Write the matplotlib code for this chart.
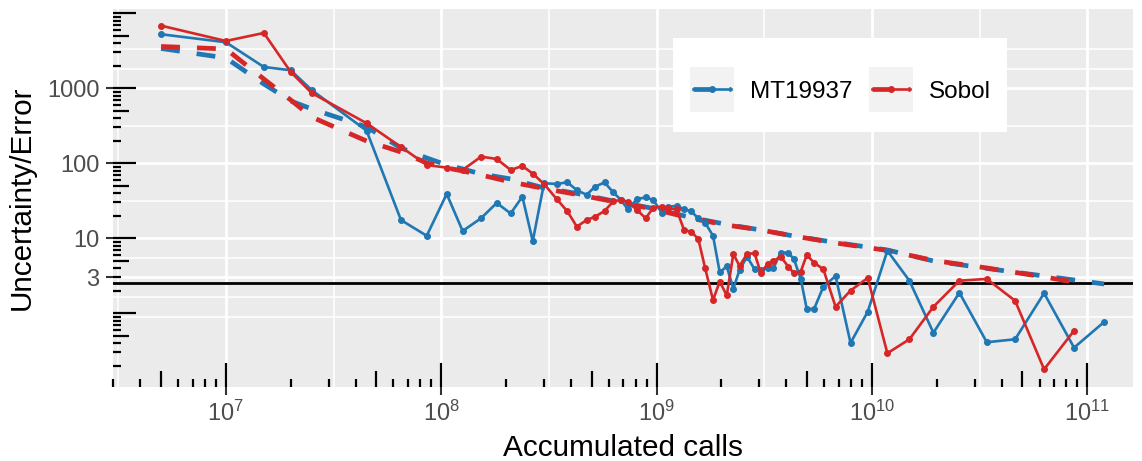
import numpy as np
import matplotlib
matplotlib.use("Agg")
import matplotlib.pyplot as plt
from matplotlib.lines import Line2D
from matplotlib.patches import Rectangle
from matplotlib.legend_handler import HandlerBase
from matplotlib.transforms import blended_transform_factory
from matplotlib.ticker import FixedLocator, FuncFormatter, NullFormatter

plt.rcParams['font.family'] = ['Liberation Sans', 'DejaVu Sans']
plt.rcParams['mathtext.fontset'] = 'custom'
plt.rcParams['mathtext.rm'] = 'Liberation Sans'
plt.rcParams['mathtext.it'] = 'Liberation Sans:italic'
plt.rcParams['mathtext.bf'] = 'Liberation Sans:bold'

# ---------------- data ----------------
calls = [5.0e6, 1.0e7, 1.5e7, 2.0e7, 2.5e7, 4.5e7, 6.5e7, 8.56e7, 1.06e8, 1.257e8,
         1.53e8, 1.81e8, 2.10e8, 2.38e8, 2.66e8, 3.00e8, 3.44e8, 3.85e8, 4.26e8, 4.73e8,
         5.18e8, 5.73e8, 6.30e8, 6.81e8, 7.35e8, 8.11e8, 8.90e8, 9.65e8, 1.056e9, 1.13e9,
         1.237e9, 1.341e9, 1.448e9, 1.562e9, 1.678e9, 1.828e9, 1.964e9, 2.117e9, 2.272e9, 2.427e9,
         2.63e9, 2.849e9, 3.044e9, 3.281e9, 3.483e9, 3.771e9, 4.089e9, 4.346e9, 4.67e9, 4.98e9,
         5.384e9, 5.948e9, 6.776e9, 7.954e9, 9.56e9, 1.179e10, 1.492e10, 1.929e10, 2.547e10, 3.414e10,
         4.62e10, 6.30e10, 8.68e10, 1.197e11]

mt_error = [5250, 4105, 1923, 1738, 949, 272, 17.5, 10.8, 39.0, 12.5,
            18.5, 29.6, 21.4, 35.9, 9.15, 54.1, 53.0, 55.8, 43.8, 38.0,
            48.8, 55.5, 40.8, 32.7, 24.4, 33.4, 35.0, 32.4, 21.9, 26.4,
            27.0, 24.4, 22.9, 18.4, 16.2, 10.8, 3.52, 4.21, 2.13, 3.78,
            5.68, 3.87, 3.78, 3.98, 3.98, 6.43, 6.43, 5.25, 2.87, 1.14,
            1.14, 2.26, 3.14, 0.402, 1.05, 6.83, 2.72, 0.551, 1.88, 0.411,
            0.450, 1.85, 0.348, 0.766]

sobol_error = [6835, 4272, 5462, 1649, 866, 342, 165, 94.9, 87.4, 81.4,
               122.5, 114.1, 81.4, 92.0, 72.7, 53.0, 33.2, 22.9, 14.3, 17.5,
               19.4, 23.1, 31.1, 32.4, 30.8, 23.8, 18.5, 25.6, 26.4, 25.1,
               24.4, 12.9, 12.2, 9.79, 4.06, 1.50, 2.65, 1.73, 6.18, 4.27,
               6.18, 6.31, 3.48, 4.54, 4.98, 5.68, 4.18, 3.42, 3.59, 5.99,
               4.73, 3.86, 1.22, 2.01, 2.96, 0.293, 0.450, 1.22, 2.72, 2.87,
               1.47, 0.179, 0.586]

uncert_calls = [5.0e6, 1.0e7, 1.5e7, 2.0e7, 2.5e7, 4.5e7, 6.5e7, 8.56e7, 1.06e8, 1.257e8,
                1.53e8, 2.10e8, 3.00e8, 4.26e8, 6.30e8, 9.65e8, 1.448e9, 2.117e9, 3.044e9, 4.346e9,
                6.776e9, 1.179e10, 1.929e10, 3.414e10, 6.30e10, 8.68e10, 1.197e11]

mt_uncert = [3394, 2535, 1141, 677, 530, 305, 160, 117.7, 94.9, 84.0,
             72.0, 61.8, 46.9, 39.6, 31.4, 25.0, 18.9, 15.3, 12.9, 10.7,
             8.79, 6.98, 4.98, 3.96, 3.14, 2.78, 2.46]

sobol_uncert = [3608, 3342, 1330, 698, 414, 198, 141.5, 101, 86.6, 78.9,
                69.8, 56.3, 46.1, 38.4, 30.9, 24.6, 18.4, 15.0, 12.9, 10.7,
                8.66, 6.88, 5.06, 4.02, 3.05, 2.61]

threshold = 2.5
series_names = ["MT19937", "Sobol"]
series_colors = ["#1F77B4", "#D62728"]
y_breaks = [3, 10, 100, 1000]
y_labels = ["3", "10", "100", "1000"]
x_breaks = [1e7, 1e8, 1e9, 1e10, 1e11]
xlim = (2.99e6, 1.63e11)
ylim = (0.104, 11400)

# ---------------- figure ----------------
W, H = 1142, 461
fig = plt.figure(figsize=(W / 100, H / 100), dpi=100)
L, R, T, B = 113, 1133, 9, 387
ax = fig.add_axes([L / W, 1 - B / H, (R - L) / W, (B - T) / H])
ax.set_facecolor('#EBEBEB')
for s in ax.spines.values():
    s.set_visible(False)
ax.set_xscale('log')
ax.set_yscale('log')
ax.set_xlim(*xlim)
ax.set_ylim(*ylim)

# grid (ggplot-like: major + minor midway in log space)
lb = np.log10(y_breaks)
bd = lb[1] - lb[0]
ext = np.concatenate([[lb[0] - bd], lb, [lb[-1] + bd]])
y_minor = list(10 ** ext[[0, -1]]) + list(10 ** ((ext[:-1] + ext[1:]) / 2))
lx = np.log10(x_breaks)
x_minor = list(10 ** (np.concatenate([[lx[0] - 1], lx]) + 0.5))

ax.xaxis.set_major_locator(FixedLocator(x_breaks))
ax.xaxis.set_minor_locator(FixedLocator(x_minor))
ax.yaxis.set_major_locator(FixedLocator(y_breaks))
ax.yaxis.set_minor_locator(FixedLocator(y_minor))
ax.xaxis.set_major_formatter(FuncFormatter(lambda v, p: r'$10^{%d}$' % round(np.log10(v))))
ax.yaxis.set_major_formatter(FuncFormatter(lambda v, p: y_labels[y_breaks.index(v)] if v in y_breaks else ''))
ax.xaxis.set_minor_formatter(NullFormatter())
ax.yaxis.set_minor_formatter(NullFormatter())
ax.set_axisbelow(True)
ax.grid(which='major', color='white', lw=2.0)
ax.grid(which='minor', color='white', lw=1.1)
ax.tick_params(which='major', direction='out', length=5.4, width=1.5, color='#333333',
               labelcolor='#4D4D4D', labelsize=17, pad=4.3)
ax.tick_params(which='minor', length=0)

# log ticks (annotation_logticks style), bottom and left
ax_h = B - T
ax_w = R - L
tb = blended_transform_factory(ax.transData, ax.transAxes)
tl = blended_transform_factory(ax.transAxes, ax.transData)
for d in range(5, 12):
    for k in range(1, 10):
        v = k * 10.0 ** d
        ln = 24 if k == 1 else (16 if k == 5 else 8)
        if xlim[0] <= v <= xlim[1]:
            ax.plot([v, v], [0, ln / ax_h], transform=tb, color='black', lw=1.6,
                    solid_capstyle='butt', zorder=2, clip_on=False)
for d in range(-2, 6):
    for k in range(1, 10):
        v = k * 10.0 ** d
        ln = 23 if k == 1 else (15.5 if k == 5 else 7.7)
        if ylim[0] <= v <= ylim[1]:
            ax.plot([0, ln / ax_w], [v, v], transform=tl, color='black', lw=1.6,
                    solid_capstyle='butt', zorder=2, clip_on=False)

# threshold line
ax.axhline(threshold, color='black', lw=2.0, zorder=2.5)

# data
dash_kw = dict(lw=3.4, dashes=(4.0, 3.6), dash_capstyle='butt')
ax.plot(uncert_calls[:len(mt_uncert)], mt_uncert, color=series_colors[0], zorder=3, **dash_kw)
ax.plot(uncert_calls[:len(sobol_uncert)], sobol_uncert, color=series_colors[1], zorder=3.1, **dash_kw)
ax.plot(calls[:len(mt_error)], mt_error, color=series_colors[0], lw=1.9, marker='o', ms=4.0, zorder=4)
ax.plot(calls[:len(sobol_error)], sobol_error, color=series_colors[1], lw=1.9, marker='o', ms=4.0, zorder=4.1)

ax.set_xlabel('Accumulated calls', fontsize=21.4, color='black', labelpad=6)
ax.set_ylabel('Uncertainty/Error', fontsize=21.4, color='black', labelpad=8)

# legend
class KeyHandler(HandlerBase):
    def create_artists(self, legend, orig_handle, xdescent, ydescent, width, height, fontsize, trans):
        color = orig_handle
        y = height / 2 - ydescent
        x0 = -xdescent
        x1 = width - xdescent
        half = 15.85
        padx = (31.7 - width) / 2
        rect = Rectangle((x0 - padx, y - half), width + 2 * padx, 2 * half,
                         facecolor='#F2F2F2', edgecolor='none', transform=trans)
        l1 = Line2D([x0, x1], [y, y], color=color, transform=trans, **dash_kw)
        l2 = Line2D([x0, x1], [y, y], color=color, lw=1.9, transform=trans)
        l3 = Line2D([(x0 + x1) / 2], [y], color=color, marker='o', ms=4.0, lw=0, transform=trans)
        return [rect, l1, l2, l3]

leg = ax.legend(series_colors, series_names, handler_map={str: KeyHandler()},
                loc='center left', bbox_to_anchor=(692.7 / W, 1 - 92 / H),
                bbox_transform=fig.transFigure, ncol=2, frameon=False, borderpad=0,
                borderaxespad=0, fontsize=17.5, handlelength=1.56, handletextpad=0.79,
                columnspacing=0.82)
leg.set_zorder(6)
ax.add_patch(Rectangle((673 / W, 1 - 132 / H), 334 / W, 94 / H, transform=fig.transFigure,
                       facecolor='white', edgecolor='none', zorder=5.5, clip_on=False))

fig.savefig('out.png', dpi=100)
